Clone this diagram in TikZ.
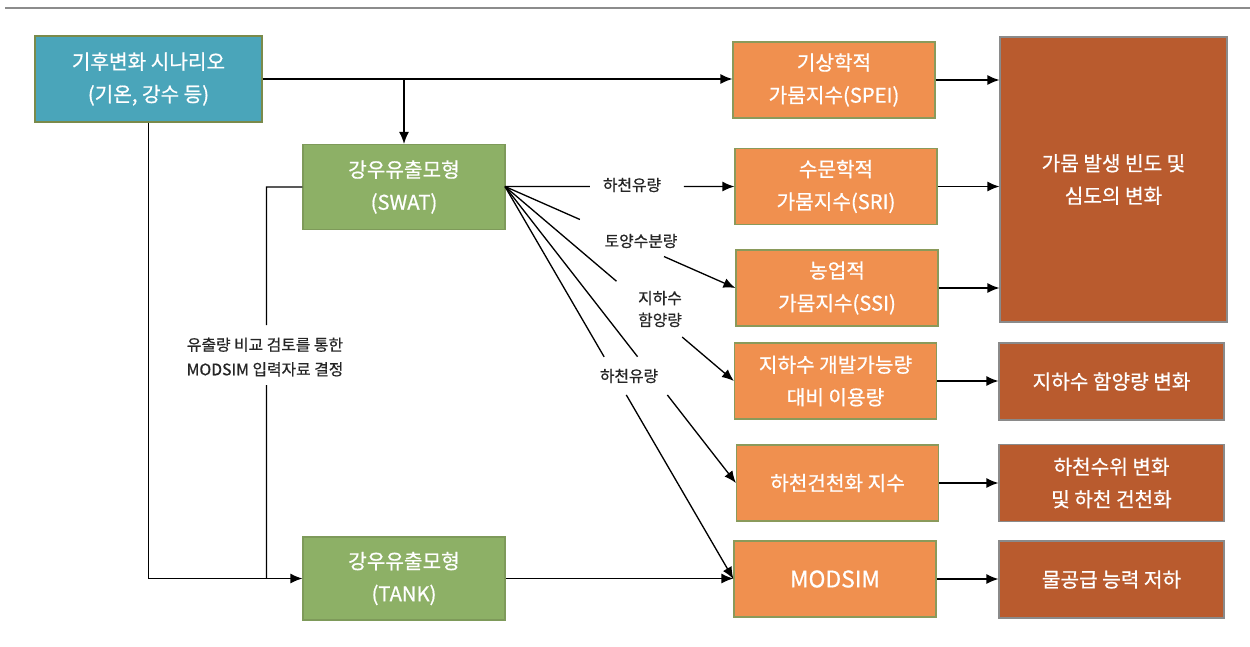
\documentclass[tikz,border=0pt]{standalone}
\usepackage{fontspec}
\setmainfont{Noto Sans CJK KR}[FakeBold=0.7]
\usetikzlibrary{arrows.meta,calc}
\definecolor{teal1}{HTML}{4AA5BA}
\definecolor{teal1b}{HTML}{7A8A4A}
\definecolor{grn1}{HTML}{8DB066}
\definecolor{grn1b}{HTML}{7E9A5A}
\definecolor{org1}{HTML}{F0904F}
\definecolor{org1b}{HTML}{8A9A5B}
\definecolor{brn1}{HTML}{B95B2E}
\definecolor{brn1b}{HTML}{8A8A8A}
\definecolor{rule1}{HTML}{8C8C8C}
\tikzset{
  boxbase/.style={draw, line width=0.7pt, text=white, align=center, inner sep=0pt,
    font=\fontsize{11.5}{18.5}\selectfont},
  climbox/.style={boxbase, fill=teal1, draw=teal1b, minimum width=4.54cm, minimum height=1.72cm},
  modelbox/.style={boxbase, fill=grn1, draw=grn1b, minimum width=4.04cm, minimum height=1.70cm},
  idxbox/.style={boxbase, fill=org1, draw=org1b, minimum width=4.04cm, minimum height=1.52cm},
  resbox/.style={boxbase, fill=brn1, draw=brn1b, minimum width=4.5cm, minimum height=1.54cm},
  lbl/.style={align=center, inner sep=0pt, text=black!85, font=\fontsize{9}{12.5}\selectfont},
  conn/.style={line width=0.75pt, black},
  arr/.style={conn, -{Latex[length=2.4mm,width=2mm]}},
}
\begin{document}
\begin{tikzpicture}[x=0.02cm,y=-0.02cm]
\useasboundingbox (0,0) rectangle (1250,646);
\draw[rule1, line width=1.1pt] (5,8) -- (1250,8);

% boxes
\node[climbox] (clim) at (148.5,79) {기후변화 시나리오\\(기온, 강수 등)};
\node[modelbox] (swat) at (404,187) {강우유출모형\\(SWAT)};
\node[modelbox, minimum height=1.66cm] (tank) at (404,578.5) {강우유출모형\\(TANK)};

\node[idxbox] (spei) at (834,80) {기상학적\\가뭄지수(SPEI)};
\node[idxbox] (sri) at (836,186.5) {수문학적\\가뭄지수(SRI)};
\node[idxbox] (ssi) at (837,288) {농업적\\가뭄지수(SSI)};
\node[idxbox] (gw) at (835.5,381) {지하수 개발가능량\\대비 이용량};
\node[idxbox] (dry) at (837.5,483) {하천건천화 지수};
\node[idxbox] (mod) at (835,579) {\fontsize{13}{18}\selectfont MODSIM};

\node[resbox, minimum width=4.54cm, minimum height=5.7cm] (big) at (1113.5,179.5) {가뭄 발생 빈도 및\\심도의 변화};
\node[resbox] (r1) at (1111.5,381.5) {지하수 함양량 변화};
\node[resbox] (r2) at (1111.5,483) {하천수위 변화\\및 하천 건천화};
\node[resbox] (r3) at (1111.5,579.5) {물공급 능력 저하};

% climate connectors
\draw[arr] (clim.east) -- (clim.east -| spei.west);
\draw[arr] (clim.east -| swat.north) -- (swat.north);
\draw[arr] (clim.south) |- (tank.west);

% SWAT -> TANK comparison line
\coordinate (jn) at ($(tank.west)+(-36,0)$);
\coordinate (jt) at (swat.west -| jn);
\draw[conn] (swat.west) -- (jt) -- ($(jt)!0.353!(jn)$);
\draw[conn] ($(jt)!0.506!(jn)$) -- (jn);
\node[lbl, font=\fontsize{9}{14}\selectfont] (lcmp) at (265,357) {유출량 비교 검토를 통한\\MODSIM 입력자료 결정};

% SWAT fan
\coordinate (se) at (505,186.5);
\draw[conn] (se) -- ($(se)!0.37!(sri.west)$);
\draw[arr] ($(se)!0.78!(sri.west)$) -- (sri.west);
\draw[conn] (se) -- ($(se)!0.325!(ssi.west)$);
\draw[arr] ($(se)!0.69!(ssi.west)$) -- (ssi.west);
\draw[conn] (se) -- ($(se)!0.487!(gw.west)$);
\draw[arr] ($(se)!0.774!(gw.west)$) -- (gw.west);
\draw[conn] (se) -- ($(se)!0.574!(dry.west)$);
\draw[arr] ($(se)!0.703!(dry.west)$) -- (dry.west);
\draw[conn] (se) -- ($(se)!0.434!(mod.west)$);
\draw[arr] ($(se)!0.531!(mod.west)$) -- (mod.west);

\node[lbl] (l1) at (632,185) {하천유량};
\node[lbl] (l2) at (641,241) {토양수분량};
\node[lbl] (l3) at (660,309) {지하수\\함양량};
\node[lbl] (l4) at (629,376) {하천유량};

% TANK -> MODSIM
\draw[arr] (tank.east) -- (tank.east -| mod.west);

% indices -> results
\draw[arr] (spei.east) -- (spei.east -| big.west);
\draw[arr] (sri.east) -- (sri.east -| big.west);
\draw[arr] (ssi.east) -- (ssi.east -| big.west);
\draw[arr] (gw.east) -- (gw.east -| r1.west);
\draw[arr] (dry.east) -- (dry.east -| r2.west);
\draw[arr] (mod.east) -- (mod.east -| r3.west);
\end{tikzpicture}
\end{document}
